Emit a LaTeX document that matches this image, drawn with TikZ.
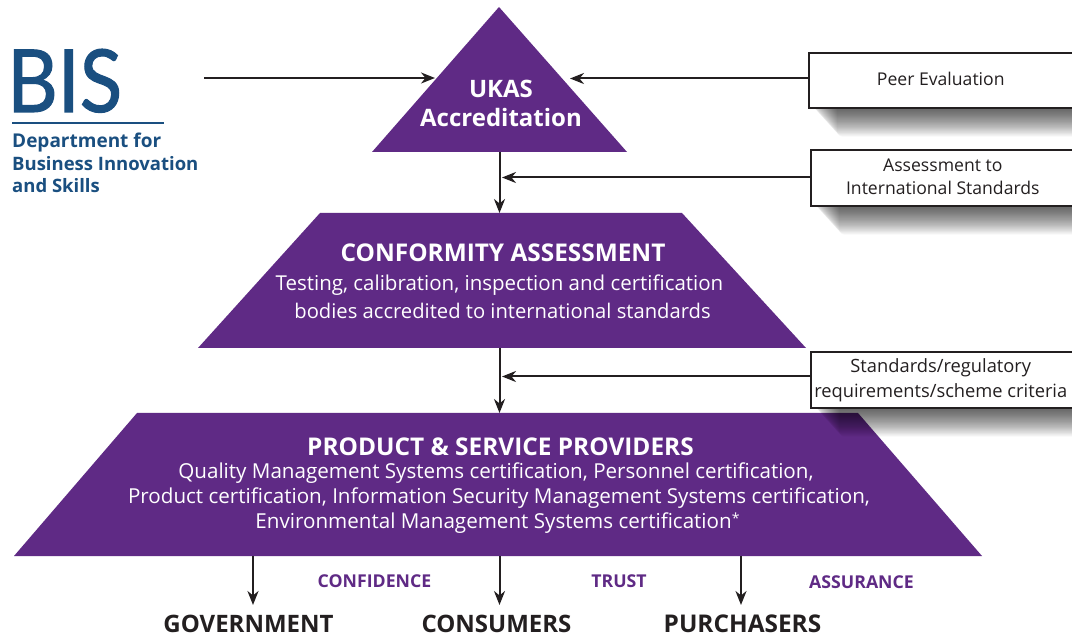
\documentclass[tikz,border=0pt]{standalone}
\usepackage{fontspec}
\setmainfont{Open Sans}
\newfontfamily\logofont[FakeBold=1.2,FakeStretch=0.9]{Lato}
\usetikzlibrary{arrows.meta,calc}
\definecolor{ukpurple}{HTML}{5F2A85}
\definecolor{bisblue}{HTML}{1A4F80}
\definecolor{inkc}{HTML}{231F20}
\tikzset{
  x=1pt,y=-1pt,
  tier/.style={fill=ukpurple,draw=none},
  tiertext/.style={text=white,align=center,inner sep=0pt,anchor=center},
  conn/.style={draw=inkc,line width=2pt,-{Stealth[length=14pt,width=11pt,inset=4.5pt]}},
  sidebox/.style={draw=inkc,line width=1.6pt,fill=white,inner sep=0pt,anchor=north west,align=center,text=inkc},
  word/.style={text=ukpurple,font=\fontsize{17.7}{20}\selectfont\bfseries,inner sep=0pt},
  target/.style={text=inkc,font=\fontsize{24}{26}\selectfont\bfseries,inner sep=0pt},
  logotxt/.style={text=bisblue,anchor=base west,inner sep=0pt,font=\fontsize{18.5}{20}\selectfont\bfseries},
}
\newcommand{\softshadow}[4]{%
  \foreach \k in {0,...,27}{
    \fill[black,opacity=0.03,rounded corners=6pt]
      ($(#1,#2)+(2+\k*1.0,5)$) rectangle ($(#3,#4)+(10,\k*1.1)$);
  }}
\begin{document}
\begin{tikzpicture}
\useasboundingbox (0,0) rectangle (1072,636);
\fill[white] (0,0) rectangle (1072,636);
% tiers
\fill[tier] (499,7) -- (627,152) -- (372,152) -- cycle;
\fill[tier] (320,213) -- (682,213) -- (806,348) -- (198,348) -- cycle;
\fill[tier] (137,413) -- (858,413) -- (982,556) -- (14,556) -- cycle;
\coordinate (ukasbase) at (499.5,152);
\coordinate (confop) at (499.5,213);
\coordinate (confbase) at (499.5,348);
\coordinate (prodtop) at (499.5,413);
\coordinate (ukasleft) at (435,78);
\coordinate (ukasright) at (570,78.5);
\coordinate (bisout) at (204,78);
\coordinate (lineA) at (502,177.5);
\coordinate (lineB) at (502,376.5);
\coordinate (provA) at (253,556);
\coordinate (provB) at (499.5,556);
\coordinate (provC) at (741,556);
\coordinate (downA) at (253,605);
\coordinate (downB) at (499.5,605);
\coordinate (downC) at (741,605);
% shadows
\softshadow{808}{52}{1072}{107}
\softshadow{810}{149}{1072}{205}
\softshadow{810}{351}{1072}{407}
% tier text
\node[tiertext,font=\fontsize{24}{29}\selectfont\bfseries] (ukas) at (501,103) {UKAS\\Accreditation};
\node[tiertext,font=\fontsize{24.4}{26}\selectfont\bfseries] (conf) at (503,253) {CONFORMITY ASSESSMENT};
\node[tiertext,font=\fontsize{20.5}{28}\selectfont] (confsub) at (499.5,297) {Testing, calibration, inspection and certification\\\hspace*{6pt}{\fontsize{20.2}{28}\selectfont bodies accredited to international standards}};
\node[tiertext,font=\fontsize{24.4}{26}\selectfont\bfseries] (prod) at (500.5,446.5) {PRODUCT \& SERVICE PROVIDERS};
\node[tiertext,font=\fontsize{20.6}{25}\selectfont] (prodsub) at (499,498.5) {\hspace*{-6pt}Quality Management Systems certification, Personnel certification,\\Product certification, Information Security Management Systems certification,\\\hspace*{-3pt}Environmental Management Systems certification\raisebox{5pt}{\fontsize{14}{14}\selectfont *}};
% side boxes
\node[sidebox,minimum width=266pt,minimum height=55pt,font=\fontsize{17.6}{24}\selectfont] (peer) at (808,52) {\hspace*{-2pt}\raisebox{-5.5pt}[0pt][0pt]{Peer Evaluation}};
\node[sidebox,minimum width=264pt,minimum height=56pt,font=\fontsize{17.6}{23}\selectfont] (assess) at (810,149.5) {\raisebox{2.5pt}{Assessment to}\\\raisebox{2.5pt}{International Standards}};
\node[sidebox,minimum width=264pt,minimum height=56pt,font=\fontsize{18.3}{25}\selectfont] (stds) at (810,351) {\hspace*{-4pt}Standards/regulatory\\\hspace*{-4pt}requirements/scheme criteria};
% logo
\node[text=bisblue,anchor=base west,inner sep=0pt,font=\logofont\fontsize{87}{87}\selectfont] (bis) at (7,112) {BIS};
\draw[bisblue,line width=1.2pt] (12,123) -- (164,123);
\node[logotxt] (dept) at (12,148) {\fontsize{19}{20}\selectfont Department for};
\node[logotxt] (biz) at (12,170.5) {\fontsize{18.5}{20}\selectfont Business Innovation};
\node[logotxt] (skills) at (12,192.5) {and Skills};
% bottom labels
\node[word] (wa) at (374.5,581) {CONFIDENCE};
\node[word] (wb) at (619,581) {TRUST};
\node[word] (wc) at (861.5,582) {ASSURANCE};
\node[target] (gov) at (248.5,623.5) {GOVERNMENT};
\node[target] (cons) at (496.5,623.5) {CONSUMERS};
\node[target,font=\fontsize{24.4}{26}\selectfont\bfseries] (purch) at (742.5,623.5) {PURCHASERS};
% connectors
\draw[conn] (bisout) -- (ukasleft);
\draw[conn] (ukasright -| peer.west) -- (ukasright);
\draw[conn] (ukasbase) -- (confop);
\draw[conn] (lineA -| assess.west) -- (lineA);
\draw[conn] (confbase) -- (prodtop);
\draw[conn] (lineB -| stds.west) -- (lineB);
\draw[conn] (provA) -- (downA);
\draw[conn] (provB) -- (downB);
\draw[conn] (provC) -- (downC);
\end{tikzpicture}
\end{document}
